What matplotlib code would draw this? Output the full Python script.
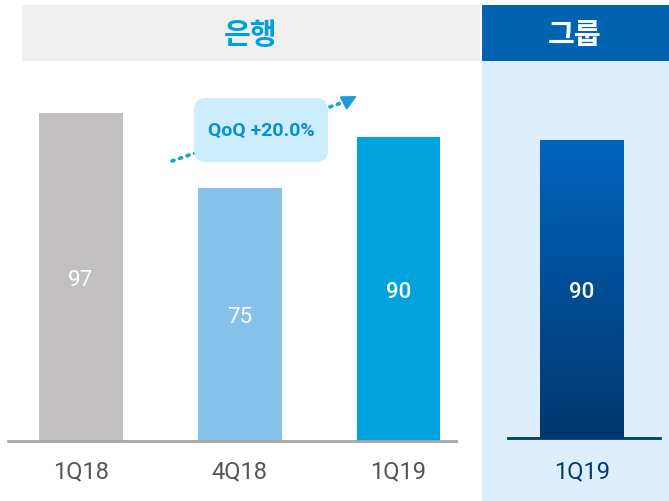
import matplotlib
matplotlib.use("Agg")
import matplotlib.pyplot as plt
import numpy as np
from matplotlib.patches import Rectangle, FancyBboxPatch
from matplotlib.colors import LinearSegmentedColormap

plt.rcParams["font.family"] = ["Roboto", "Noto Sans CJK KR", "DejaVu Sans"]

# data
bank_labels = ["1Q18", "4Q18", "1Q19"]
bank_values = [97, 75, 90]
bank_colors = ["#c1bfc0", "#86c1eb", "#00a3dd"]
bank_weights = ["normal", "normal", "medium"]
group_labels = ["1Q19"]
group_values = [90]
qoq_text = "QoQ +20.0%"
bank_title = "은행"
group_title = "그룹"

W, H = 669, 502
fig = plt.figure(figsize=(W / 100, H / 100), dpi=100)


def fx(px):
    return px / W


def fy(py):
    return 1 - py / H


# header bands and right panel background
fig.patches.append(Rectangle((fx(22), fy(62)), fx(458), 56 / H, transform=fig.transFigure,
                             fc="#f0f0f0", ec="none", zorder=-1))
fig.patches.append(Rectangle((fx(482), fy(62)), fx(187), 56 / H, transform=fig.transFigure,
                             fc="#0063b0", ec="none", zorder=-1))
fig.patches.append(Rectangle((fx(482), 0), fx(187), fy(62), transform=fig.transFigure,
                             fc="#ddeefc", ec="none", zorder=-1))
fig.text(fx(251), fy(35), bank_title, ha="center", va="center", fontsize=21,
         fontweight="bold", color="#00a0dc", family=["Noto Sans CJK KR"])
fig.text(fx(575), fy(35), group_title, ha="center", va="center", fontsize=21,
         fontweight="bold", color="white", family=["Noto Sans CJK KR"])

unit = 158.75  # px per category
ppv = 3.38     # px per value unit
bw = 84 / unit

# left panel
ax = fig.add_axes([fx(8), fy(442), fx(448), 380 / H])
ax.set_xlim(-73 / unit, 2 + 57.5 / unit)
ax.set_ylim(0, 380 / ppv)
xs = np.arange(len(bank_values))
ax.bar(xs, bank_values, width=bw, color=bank_colors, zorder=2)
for x, v, w in zip(xs, bank_values, bank_weights):
    ax.text(x, v / 2, str(v), ha="center", va="center_baseline", color="white",
            fontsize=16, fontweight=w, zorder=3)
ax.set_xticks(xs)
ax.set_xticklabels(bank_labels, fontsize=17, color="#555555")
ax.tick_params(axis="x", length=0, pad=13)
ax.set_yticks([])
for s in ["top", "right", "left"]:
    ax.spines[s].set_visible(False)
ax.spines["bottom"].set_color("#a6a6a6")
ax.spines["bottom"].set_linewidth(2)
ax.patch.set_visible(False)

# QoQ trend arrow (dotted) and callout box
x0, y0 = (172 - 81) / unit, (442 - 162) / ppv
x1, y1 = (347 - 81) / unit, (442 - 102) / ppv
ax.plot([x0, x1], [y0, y1], color="#1a9ed9", lw=2.6, linestyle=(0, (0.6, 1.6)),
        dash_capstyle="round", zorder=3)
ax.annotate("", xy=((357 - 81) / unit, (442 - 97) / ppv), xytext=(x1 - 0.01, y1 - 0.3),
            arrowprops=dict(arrowstyle="-|>,head_length=0.9,head_width=0.45",
                            color="#1a9ed9", lw=1.5, shrinkA=0, shrinkB=0), zorder=4)
box = FancyBboxPatch((1.94, 5.02 - 1.63), 1.34, 0.64,
                     boxstyle="round,pad=0,rounding_size=0.12",
                     transform=fig.dpi_scale_trans, fc="#ccedfd", ec="none", zorder=5)
fig.patches.append(box)
fig.text(fx(261), fy(131), qoq_text, ha="center", va="center", fontsize=14,
         fontweight="bold", color="#0a8fd4", zorder=6)

# right panel
ax2 = fig.add_axes([fx(482), fy(442), fx(187), 380 / H])
ax2.set_xlim(-100 / unit, 87 / unit)
gx = np.arange(len(group_values))
bars = ax2.bar(gx, group_values, width=bw, color="none", zorder=2)
cmap = LinearSegmentedColormap.from_list("g", ["#00376e", "#0064bd"])
grad = np.linspace(0, 1, 256).reshape(-1, 1)
for b in bars:
    im = ax2.imshow(grad, cmap=cmap, origin="lower", aspect="auto", zorder=2,
                    extent=(b.get_x(), b.get_x() + b.get_width(), -0.4, b.get_height()))
    im.set_clip_path(b)
for x, v in zip(gx, group_values):
    ax2.text(x, v / 2, str(v), ha="center", va="center_baseline", color="white",
             fontsize=16, fontweight="medium", zorder=3)
ax2.axhline(0, xmin=26 / 187, xmax=178 / 187, color="#003a73", lw=2, zorder=1)
ax2.set_xticks(gx)
ax2.set_xticklabels(group_labels, fontsize=17, color="#003b73")
ax2.tick_params(axis="x", length=0, pad=13)
ax2.set_yticks([])
for s in ax2.spines.values():
    s.set_visible(False)
ax2.patch.set_visible(False)
ax2.set_ylim(-1.0, 380 / 3.34)

fig.savefig("out.png", dpi=100)
